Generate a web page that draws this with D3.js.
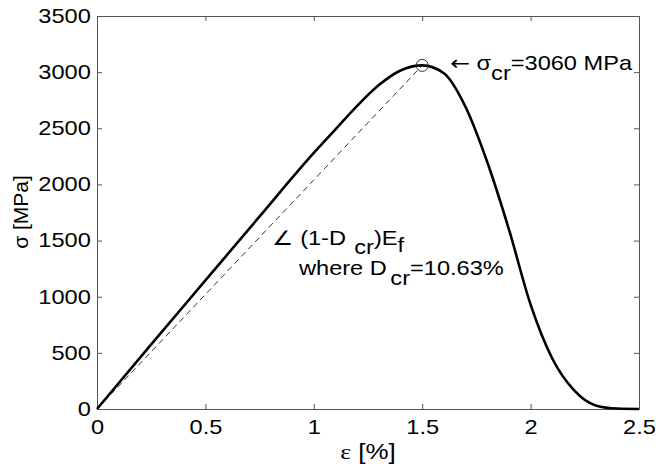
<!DOCTYPE html>
<html>
<head>
<meta charset="utf-8">
<script src="https://cdn.jsdelivr.net/npm/d3@7"></script>
<style>
  body { margin: 0; background: #fff; }
  svg { display: block; font-family: "Liberation Sans", Arial, sans-serif; }
  .axis path, .axis line { stroke: #555; }
</style>
</head>
<body>
<svg width="656" height="464"></svg>
<script>
// strain [%] and stress [MPa]
const strain = [0, 0.25, 0.5, 0.75, 1.0, 1.1, 1.2, 1.3, 1.4, 1.5, 1.6, 1.7, 1.8, 1.9, 2.0, 2.1, 2.2, 2.3, 2.4, 2.5];
const stress = [0, 575, 1145, 1715, 2280, 2490, 2700, 2885, 3015, 3060, 2990, 2690, 2200, 1600, 930, 450, 168, 32, 4, 0];

// secant line (1-Dcr)Ef up to the critical point
const peakStrain = 1.5, peakStress = 3060;

const xTicks = [0, 0.5, 1, 1.5, 2, 2.5];
const xTickLabels = ["0", "0.5", "1", "1.5", "2", "2.5"];
const yTicks = [0, 500, 1000, 1500, 2000, 2500, 3000, 3500];
const yTickLabels = ["0", "500", "1000", "1500", "2000", "2500", "3000", "3500"];

const svg = d3.select("svg"),
    margin = {top: 16, right: 17, bottom: 55, left: 97},
    width = 656 - margin.left - margin.right,
    height = 464 - margin.top - margin.bottom,
    sx = 1.18; // glyphs in the picture are stretched sideways

const x = d3.scaleLinear().domain([0, 2.5]).range([0, width]);
const y = d3.scaleLinear().domain([0, 3500]).range([height, 0]);

const g = svg.append("g").attr("transform", `translate(${margin.left},${margin.top})`);

// axes, ticks pointing inwards on all four sides
g.append("g").attr("class", "axis")
    .attr("transform", `translate(0,${height})`)
    .call(d3.axisBottom(x).tickValues(xTicks).tickFormat((d, i) => xTickLabels[i])
        .tickSizeInner(-5).tickSizeOuter(0).tickPadding(11));
g.append("g").attr("class", "axis")
    .call(d3.axisTop(x).tickValues(xTicks).tickFormat("").tickSizeInner(-5).tickSizeOuter(0));
g.append("g").attr("class", "axis")
    .call(d3.axisLeft(y).tickValues(yTicks).tickFormat((d, i) => yTickLabels[i])
        .tickSizeInner(-5).tickSizeOuter(0).tickPadding(5.3));
g.append("g").attr("class", "axis")
    .attr("transform", `translate(${width},0)`)
    .call(d3.axisRight(y).tickValues(yTicks).tickFormat("").tickSizeInner(-5).tickSizeOuter(0));

g.selectAll(".axis text")
    .attr("font-size", 20)
    .attr("font-family", "Liberation Sans, Arial, sans-serif")
    .attr("fill", "#000")
    .attr("transform", `scale(${sx},1)`);

// dashed secant
g.append("line")
    .attr("x1", x(0)).attr("y1", y(0))
    .attr("x2", x(peakStrain)).attr("y2", y(peakStress))
    .attr("stroke", "#333")
    .attr("stroke-width", 1)
    .attr("stroke-dasharray", "6,4");

// stress-strain curve
const line = d3.line()
    .x((d, i) => x(strain[i]))
    .y(d => y(d))
    .curve(d3.curveMonotoneX);

g.append("path")
    .datum(stress)
    .attr("fill", "none")
    .attr("stroke", "#000")
    .attr("stroke-width", 2.6)
    .attr("d", line);

// marker at critical stress
g.append("circle")
    .attr("cx", x(peakStrain)).attr("cy", y(peakStress))
    .attr("r", 6)
    .attr("fill", "none")
    .attr("stroke", "#333")
    .attr("stroke-width", 1);

// annotations
function label(tx, ty, parts) {
    const t = g.append("text")
        .attr("transform", `translate(${tx},${ty}) scale(${sx},1)`)
        .attr("font-size", 20)
        .attr("fill", "#000");
    let sub = false;
    parts.forEach(p => {
        const s = t.append("tspan").text(p.t);
        if (p.sub && !sub) s.attr("dy", p.dy || 10);
        if (!p.sub && sub) s.attr("dy", -(p.back || 10));
        if (p.dx) s.attr("dx", p.dx);
        if (p.font) s.attr("font-family", p.font);
        sub = !!p.sub;
    });
    return t;
}

label(x(peakStrain) + 28, y(peakStress) + 5, [
    {t: "\u2190", font: "DejaVu Sans"}, {t: " \u03c3"}, {t: "cr", sub: true, dy: 10}, {t: "=3060 MPa", back: 10}
]);
label(272 - margin.left, 245 - margin.top, [
    {t: "\u2220 (1-D"}, {t: "cr", sub: true, dy: 9, dx: 7}, {t: ")E", back: 9}, {t: "f", sub: true, dy: 7}
]);
label(299 - margin.left, 275 - margin.top, [
    {t: "where D"}, {t: "cr", sub: true, dy: 10, dx: 3}, {t: "=10.63%", back: 10}
]);

// axis titles
label(width / 2, height + 50, [
    {t: "\u03b5", font: "Liberation Serif, serif"}, {t: " [%]"}
]).attr("text-anchor", "middle").attr("font-size", 22);

g.append("text")
    .attr("transform", `translate(${28 - margin.left},${212 - margin.top}) rotate(-90)`)
    .attr("text-anchor", "middle")
    .attr("font-size", 21)
    .text("\u03c3 [MPa]");
</script>
</body>
</html>
